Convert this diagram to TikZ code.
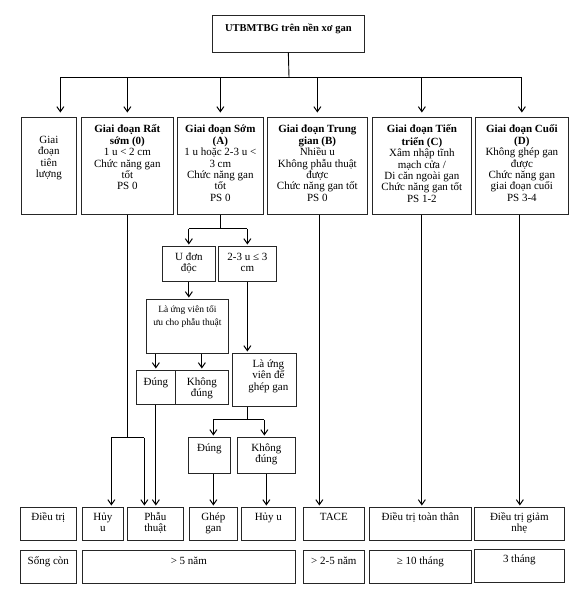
\documentclass[tikz,border=0pt]{standalone}
\usepackage{fontspec}
\setmainfont{Liberation Serif}
\usetikzlibrary{arrows.meta,calc}
\tikzset{
  cell/.style={draw=black!85,line width=0.7pt,inner sep=0pt,anchor=north west},
  link/.style={line width=0.9pt},
  arr/.style={-{Straight Barb[length=5pt,width=7pt,line width=1pt]},line width=1.1pt,shorten >=1.5pt},
  toparr/.style={arr,shorten >=4.5pt},
}
\newcommand{\boxtext}[4][7.5pt]{\parbox[c][#3][t]{#2}{\vspace*{#1}\centering\strut#4}}

\begin{document}
\begin{tikzpicture}[x=1pt,y=-1pt,font=\fontsize{11}{11.4}\selectfont]
\useasboundingbox (0,0) rectangle (575,592);
% top
\node[cell] (root) at (212,15) {\boxtext[8.5pt]{152pt}{37pt}{\fontsize{10.5}{11.4}\selectfont\textbf{UTBMTBG trên nền xơ gan}}};
% stages
\node[cell] (prog) at (21,117) {\boxtext[18pt]{55pt}{97pt}{Giai\\đoạn\\tiên\\lượng}};
\node[cell] (st0) at (81,117) {\boxtext{92pt}{97pt}{\textbf{Giai đoạn Rất\\sớm (0)}\\1 u < 2 cm\\Chức năng gan\\tốt\\PS 0}};
\node[cell] (stA) at (177,117) {\boxtext{86pt}{97pt}{\textbf{Giai đoạn Sớm\\(A)}\\1 u hoặc 2-3 u <\\3 cm\\Chức năng gan\\tốt\\PS 0}};
\node[cell] (stB) at (267,117) {\boxtext{100pt}{97pt}{\textbf{Giai đoạn Trung\\gian (B)}\\Nhiều u\\Không phẫu thuật\\được\\Chức năng gan tốt\\PS 0}};
\node[cell] (stC) at (372,117) {\boxtext{99pt}{97pt}{\textbf{Giai đoạn Tiến\\triển (C)}\\Xâm nhập tĩnh\\mạch cửa /\\Di căn ngoài gan\\Chức năng gan tốt\\PS 1-2}};
\node[cell] (stD) at (475,117) {\boxtext{93pt}{97pt}{\textbf{Giai đoạn Cuối\\(D)}\\Không ghép gan\\được\\Chức năng gan\\giai đoạn cuối\\PS 3-4}};
% early stage branches
\node[cell] (single) at (162,246) {\boxtext[6pt]{53pt}{35pt}{U đơn\\độc}};
\node[cell] (multi) at (218,246) {\boxtext[6pt]{58pt}{35pt}{2-3 u ≤ 3\\cm}};
\node[cell] (resect) at (146,299) {\boxtext[5pt]{82pt}{54pt}{\fontsize{9.5}{13.5}\selectfont Là ứng viên tối\\ưu cho phẫu thuật}};
\node[cell] (yes1) at (136,370) {\boxtext[7pt]{39pt}{34pt}{Đúng}};
\node[cell] (no1) at (175,370) {\boxtext[7pt]{53pt}{34pt}{Không\\đúng}};
\node[cell] (transp) at (232,353) {\boxtext[6pt]{64pt}{53pt}{\hspace*{8pt}Là ứng\\\hspace*{8pt}viên để\\\hspace*{8pt}ghép gan}};
\node[cell] (yes2) at (188,437) {\boxtext[6pt]{42pt}{36pt}{Đúng}};
\node[cell] (no2) at (237,437) {\boxtext[6pt]{58pt}{36pt}{Không\\đúng}};
% treatment row
\node[cell] (trt) at (20,507) {\boxtext[5pt]{56pt}{33pt}{Điều trị}};
\node[cell] (ablate1) at (82,507) {\boxtext[5pt]{41pt}{33pt}{Hủy\\u}};
\node[cell] (surg) at (127,507) {\boxtext[5pt]{56pt}{33pt}{Phẫu\\thuật}};
\node[cell] (graft) at (189,507) {\boxtext[5pt]{48pt}{33pt}{Ghép\\gan}};
\node[cell] (ablate2) at (241,507) {\boxtext[5pt]{54pt}{33pt}{Hủy u}};
\node[cell] (tace) at (303,507) {\boxtext[5pt]{61pt}{33pt}{TACE}};
\node[cell] (systemic) at (369,507) {\boxtext[5pt]{102pt}{33pt}{Điều trị toàn thân}};
\node[cell] (pall) at (474,507) {\boxtext[5pt]{90pt}{33pt}{Điều trị giảm\\nhẹ}};
% survival row
\node[cell] (surv) at (20,550) {\boxtext[6pt]{56pt}{33pt}{Sống còn}};
\node[cell] (surv0) at (82,550) {\boxtext[6pt]{213pt}{33pt}{> 5 năm}};
\node[cell] (survB) at (303,550) {\boxtext[6pt]{61pt}{33pt}{> 2-5 năm}};
\node[cell] (survC) at (369,550) {\boxtext[6pt]{102pt}{33pt}{≥ 10 tháng}};
\node[cell] (survD) at (474,549) {\boxtext[5pt]{90pt}{33pt}{3 tháng}};
% connectors from the top
\coordinate (bus) at (289,77);
\draw[link] (root.south) -- (bus);
\draw[link] ([xshift=11.5pt]prog.north |- bus) -- (stD.north |- bus);
\draw[toparr] ([xshift=11.5pt]prog.north |- bus) -- ([xshift=11.5pt]prog.north);
\foreach \n in {st0,stA,stB,stC,stD}
  \draw[toparr] (\n.north |- bus) -- (\n.north);
% stage A
\draw[link] (stA.south) -- ++(0,14) coordinate (splitA);
\draw[link] (single.north |- splitA) -- (multi.north |- splitA);
\draw[arr] (single.north |- splitA) -- (single.north);
\draw[arr] (multi.north |- splitA) -- (multi.north);
\draw[arr] (single.south) -- (single.south |- resect.north);
\draw[arr] (yes1.north |- resect.south) -- (yes1.north);
\draw[arr] (no1.north |- resect.south) -- (no1.north);
\draw[arr] (multi.south) -- (multi.south |- transp.north);
\draw[link] (multi.south |- transp.south) -- ++(0,13) coordinate (splitT);
\draw[link] ([xshift=4pt]yes2.north |- splitT) -- ([xshift=-2pt]no2.north |- splitT);
\draw[arr] ([xshift=4pt]yes2.north |- splitT) -- ([xshift=4pt]yes2.north);
\draw[arr] ([xshift=-2pt]no2.north |- splitT) -- ([xshift=-2pt]no2.north);
\draw[arr] (graft.north |- yes2.south) -- (graft.north);
\draw[arr] (no2.south) -- (no2.south |- ablate2.north);
\draw[arr] (yes1.south) -- (yes1.south |- surg.north);
% stage 0
\draw[link] (st0.south) -- ++(0,223) coordinate (split0);
\draw[link] ([xshift=-16pt]split0) -- ([xshift=17pt]split0);
\draw[arr] ([xshift=-16pt]split0) -- ([xshift=-16pt]split0 |- ablate1.north);
\draw[arr] ([xshift=17pt]split0) -- ([xshift=17pt]split0 |- surg.north);
% stages B, C, D
\draw[arr] ([xshift=2pt]stB.south) -- ([xshift=2pt]stB.south |- tace.north);
\draw[arr] (stC.south) -- (stC.south |- systemic.north);
\draw[arr] ([xshift=-2pt]stD.south) -- ([xshift=-2pt]stD.south |- pall.north);
\end{tikzpicture}
\end{document}
